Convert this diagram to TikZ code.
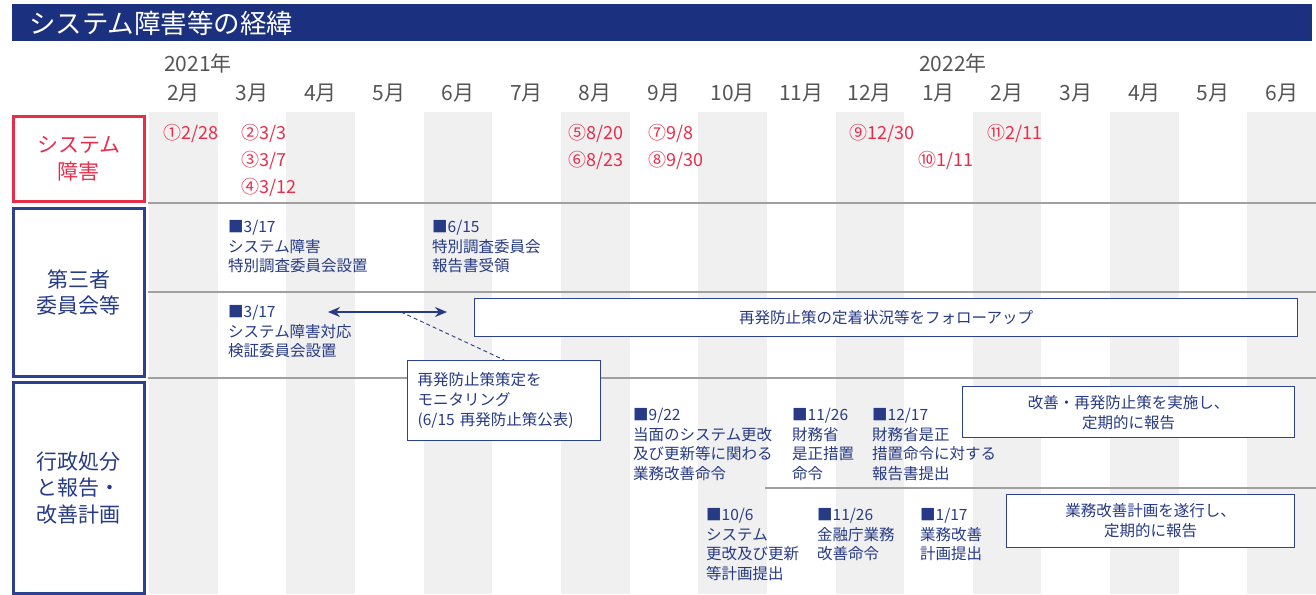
\documentclass[tikz,border=0pt]{standalone}
\usepackage{fontspec}
\setmainfont{Noto Sans CJK JP}
\usetikzlibrary{arrows.meta}
\definecolor{navy}{RGB}{27,49,128}
\definecolor{tnavy}{RGB}{38,58,134}
\definecolor{bnavy}{RGB}{45,65,145}
\definecolor{jred}{RGB}{232,45,75}
\definecolor{stripe}{RGB}{240,240,240}
\definecolor{rulegray}{RGB}{160,160,160}
\definecolor{mgray}{RGB}{85,85,85}
\begin{document}
\begin{tikzpicture}[x=1pt,y=-1pt,
  evt/.style={anchor=north west, inner sep=0pt, align=left, text=tnavy, font=\fontsize{15.5}{19.5}\selectfont},
  redev/.style={anchor=west, inner sep=0pt, text=jred, font=\fontsize{18}{20}\selectfont},
  month/.style={inner sep=0pt, text=mgray, font=\fontsize{21}{24}\selectfont},
  rowlabel/.style={draw=bnavy, line width=2.5pt, anchor=north west, align=center, inner sep=0pt, font=\fontsize{21}{26.5}\selectfont, text=tnavy},
  infobox/.style={draw=bnavy, line width=1.3pt, fill=white, anchor=north west, align=center, inner sep=0pt, text=tnavy, font=\fontsize{15.5}{20}\selectfont},
  sep/.style={draw=rulegray, line width=1.5pt}
]
\useasboundingbox (0,0) rectangle (1316,594);
% stripes
\foreach \i in {0,2,...,16}
  \fill[stripe] ({149+68.65*\i},112) rectangle ++(68.65,482);
% title
\node[fill=navy, anchor=north west, minimum width=1300pt, minimum height=37pt, inner sep=0pt] (titlebar) at (12,4) {};
\node[anchor=west, inner sep=0pt, text=white, font=\fontsize{26.5}{30}\selectfont] (title) at (29,23) {システム障害等の経緯};
% months
\foreach \i/\m in {0/2月,1/3月,2/4月,3/5月,4/6月,5/7月,6/8月,7/9月,8/10月,9/11月,10/12月,11/1月,12/2月,13/3月,14/4月,15/5月,16/6月}
  \node[month] (m\i) at ({149+68.65*(\i+0.5)},93) {\m};
\node[month, anchor=west] (y2021) at (164,63) {2021年};
\node[month, anchor=west] (y2022) at (919,63) {2022年};
% separators
\coordinate (s1a) at (148,203); \coordinate (s1b) at (1316,203);
\coordinate (s2a) at (148,292); \coordinate (s2b) at (1316,292);
\coordinate (s3a) at (148,378); \coordinate (s3b) at (1316,378);
\coordinate (s4a) at (765,488); \coordinate (s4b) at (1316,488);
\draw[sep] (s1a) -- (s1b);
\draw[sep] (s2a) -- (s2b);
\draw[sep] (s3a) -- (s3b);
\draw[sep] (s4a) -- (s4b);
% row labels
\node[rowlabel, draw=jred, text=jred, minimum width=131pt, minimum height=85pt] (lab1) at (12,115) {システム\\障害};
\node[rowlabel, minimum width=131pt, minimum height=168pt] (lab2) at (12,207) {第三者\\委員会等};
\node[rowlabel, minimum width=131pt, minimum height=211pt] (lab3) at (12,381) {行政処分\\と報告・\\改善計画};
% row 1 events
\node[redev] (r1) at (163,133) {①2/28};
\node[redev] (r2) at (241,133) {②3/3};
\node[redev] (r3) at (241,160) {③3/7};
\node[redev] (r4) at (241,187) {④3/12};
\node[redev] (r5) at (568,133) {⑤8/20};
\node[redev] (r6) at (568,160) {⑥8/23};
\node[redev] (r7) at (648,133) {⑦9/8};
\node[redev] (r8) at (648,160) {⑧9/30};
\node[redev] (r9) at (849,133) {⑨12/30};
\node[redev] (r10) at (918,160) {⑩1/11};
\node[redev] (r11) at (987,133) {⑪2/11};
% row 2 events
\node[evt] (e1) at (228,220) {■3/17\\システム障害\\特別調査委員会設置};
\node[evt] (e2) at (432,220) {■6/15\\特別調査委員会\\報告書受領};
\node[evt] (e3) at (228,305) {■3/17\\システム障害対応\\検証委員会設置};
\node[infobox, minimum width=823pt, minimum height=38pt] (follow) at (474,298) {再発防止策の定着状況等をフォローアップ};
\node[infobox, align=left, minimum width=193pt, minimum height=80pt, text width=173pt, inner xsep=10pt] (mon) at (407,360) {再発防止策策定を\\モニタリング\\(6/15 再発防止策公表)};
\coordinate (aL) at (328,312);
\coordinate (aR) at (447,312);
\coordinate (aM) at (401,312);
\draw[tnavy, line width=2pt, {Stealth[length=12pt,width=10pt]}-{Stealth[length=12pt,width=10pt]}] (aL) -- (aR);
\draw[tnavy, line width=0.9pt, dash pattern=on 4pt off 3pt] (aM) -- (mon.north);
% row 3 events
\node[evt] (e4) at (633,408) {■9/22\\当面のシステム更改\\及び更新等に関わる\\業務改善命令};
\node[evt] (e5) at (792,408) {■11/26\\財務省\\是正措置\\命令};
\node[evt] (e6) at (872,408) {■12/17\\財務省是正\\措置命令に対する\\報告書提出};
\node[evt] (e7) at (706,508) {■10/6\\システム\\更改及び更新\\等計画提出};
\node[evt] (e8) at (817,508) {■11/26\\金融庁業務\\改善命令};
\node[evt] (e9) at (920,508) {■1/17\\業務改善\\計画提出};
\node[infobox, minimum width=332pt, minimum height=51pt] (kaizen) at (962,386) {改善・再発防止策を実施し、\\定期的に報告};
\node[infobox, minimum width=288pt, minimum height=53pt] (gyomu) at (1006,494) {業務改善計画を遂行し、\\定期的に報告};
\end{tikzpicture}
\end{document}
